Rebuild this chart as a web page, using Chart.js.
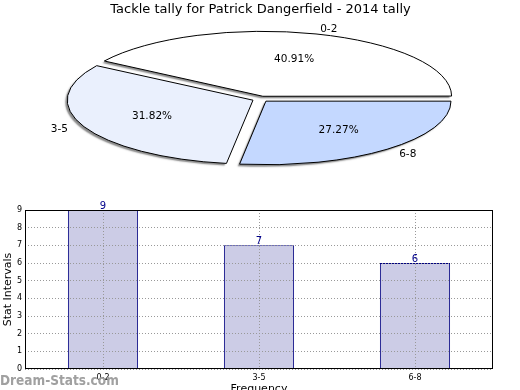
<!DOCTYPE html>
<html>
<head>
<meta charset="utf-8">
<script src="https://cdn.jsdelivr.net/npm/chart.js@4/dist/chart.umd.min.js"></script>
<style>
  html, body { margin: 0; padding: 0; background: #ffffff; overflow: hidden; width: 520px; height: 390px; }
  #pie { position: absolute; left: 0; top: 0; }
  #bar { position: absolute; left: 0; top: 200px; }
</style>
</head>
<body>
<canvas id="pie" width="520" height="200"></canvas>
<canvas id="bar" width="520" height="200"></canvas>
<script>
// ---- data ----
const categories = ['0-2', '3-5', '6-8'];
const tallies = [9, 7, 6];
const yTicks = [0, 1, 2, 3, 4, 5, 6, 7, 8, 9];
const chartTitle = 'Tackle tally for Patrick Dangerfield - 2014 tally';
const yAxisTitle = 'Stat Intervals';
const xAxisTitle = 'Frequency';
const watermark = 'Dream-Stats.com';

// ---- styles ----
const pieColors = ['#ffffff', '#eaf0fd', '#c4d8ff'];
const FONT = '"DejaVu Sans", Verdana, sans-serif';
const SQUASH = 0.344;

// Pie: squash vertically + flip so that Chart.js' clockwise order appears counter-clockwise
const squashPlugin = {
  id: 'squash',
  beforeDatasetsDraw(chart) {
    const ctx = chart.ctx;
    const el = chart.getDatasetMeta(0).data[0];
    const cx = el.x, cy = el.y;
    const base = ctx.getTransform();
    ctx.save();
    ctx.translate(cx, cy);
    ctx.scale(1, -SQUASH);
    ctx.translate(-cx, -cy);
    ctx.shadowColor = 'rgba(40,40,40,0.55)';
    ctx.shadowOffsetX = -2;
    ctx.shadowOffsetY = 2;
    ctx.shadowBlur = 1.5;
    const origStroke = CanvasRenderingContext2D.prototype.stroke;
    ctx.stroke = function () {
      this.save();
      this.setTransform(base);
      this.shadowColor = 'rgba(0,0,0,0)';
      origStroke.apply(this, arguments);
      this.restore();
    };
  },
  afterDatasetsDraw(chart) {
    const ctx = chart.ctx;
    delete ctx.stroke;
    ctx.restore();
    // labels
    const meta = chart.getDatasetMeta(0);
    const total = tallies.reduce((a, b) => a + b, 0);
    ctx.save();
    ctx.fillStyle = '#000000';
    ctx.font = '10.5px ' + FONT;
    ctx.textBaseline = 'middle';
    meta.data.forEach((el, i) => {
      const m = (el.startAngle + el.endAngle) / 2;
      const t = (el.options.offset || 0) / 4;
      const R = el.outerRadius;
      const ex = el.x + t * Math.cos(m);
      const ey = el.y - SQUASH * t * Math.sin(m);
      const lx = ex + 1.1 * R * Math.cos(m);
      const ly = ey - SQUASH * 1.1 * R * Math.sin(m);
      ctx.textAlign = Math.cos(m) >= 0 ? 'left' : 'right';
      ctx.fillText(categories[i], lx, ly);
      const px = ex + 0.6 * R * Math.cos(m);
      const py = ey - SQUASH * 0.6 * R * Math.sin(m);
      ctx.textAlign = 'center';
      ctx.fillText((tallies[i] / total * 100).toFixed(2) + '%', px, py);
    });
    ctx.restore();
  }
};

new Chart(document.getElementById('pie'), {
  type: 'pie',
  data: {
    labels: categories,
    datasets: [{
      data: tallies,
      backgroundColor: pieColors,
      borderColor: '#000000',
      borderWidth: 1,
      offset: 33,
      clip: 1000
    }]
  },
  options: {
    responsive: false,
    animation: false,
    events: [],
    rotation: 90,
    radius: 185,
    layout: { padding: { left: 1, right: 0, top: 0, bottom: 19.6 } },
    plugins: {
      legend: { display: false },
      tooltip: { enabled: false },
      title: {
        display: true,
        text: chartTitle,
        color: '#000000',
        font: { family: FONT, size: 13, weight: 'normal' },
        padding: { top: 2, bottom: 0 }
      }
    }
  },
  plugins: [squashPlugin]
});

// Bar chart
const barExtras = {
  id: 'barExtras',
  afterDraw(chart) {
    const ctx = chart.ctx;
    const a = chart.chartArea;
    ctx.save();
    ctx.setLineDash([]);
    ctx.strokeStyle = '#000000';
    ctx.lineWidth = 1;
    ctx.strokeRect(Math.round(a.left) + 0.5, Math.round(a.top) + 0.5, Math.round(a.right - a.left) - 1, Math.round(a.bottom - a.top) - 1);
    // value labels
    const meta = chart.getDatasetMeta(0);
    ctx.fillStyle = '#00008b';
    ctx.font = '10px ' + FONT;
    ctx.textAlign = 'center';
    ctx.textBaseline = 'bottom';
    meta.data.forEach((el, i) => {
      ctx.fillText(String(tallies[i]), el.x, el.y + 1);
    });
    // watermark
    ctx.fillStyle = '#a0a0a0';
    ctx.font = 'bold 13.5px "DejaVu Sans Condensed", ' + FONT;
    ctx.textAlign = 'left';
    ctx.textBaseline = 'alphabetic';
    ctx.fillText(watermark, 0, 184.5);
    ctx.restore();
  }
};

new Chart(document.getElementById('bar'), {
  type: 'bar',
  data: {
    labels: categories,
    datasets: [{
      data: tallies,
      backgroundColor: '#ccccE6',
      borderColor: '#000080',
      borderWidth: 1,
      barPercentage: 0.45,
      categoryPercentage: 1
    }]
  },
  options: {
    responsive: false,
    animation: false,
    events: [],
    layout: { padding: { top: 10, right: 27, left: 0, bottom: 0 } },
    plugins: { legend: { display: false }, tooltip: { enabled: false } },
    scales: {
      x: {
        offset: true,
        afterFit(s) { s.height = 31; },
        grid: { offset: false, color: '#999999', lineWidth: 1, drawTicks: false, z: 1 },
        border: { display: false, dash: [1, 2] },
        ticks: { color: '#000000', font: { family: FONT, size: 8 }, padding: 4, maxRotation: 0 },
        title: { display: true, text: xAxisTitle, color: '#000000', font: { family: FONT, size: 11 }, padding: { top: 0, bottom: 4.4 } }
      },
      y: {
        min: 0,
        max: 9,
        afterFit(s) { s.width = 25; },
        afterBuildTicks(s) { s.ticks = yTicks.map(v => ({ value: v })); },
        grid: { color: '#999999', lineWidth: 1, drawTicks: false, z: 1 },
        border: { display: false, dash: [1, 2] },
        ticks: { color: '#000000', font: { family: FONT, size: 8 }, padding: 3 },
        title: { display: true, text: yAxisTitle, color: '#000000', font: { family: FONT, size: 11 }, padding: { top: 2, bottom: 0 } }
      }
    }
  },
  plugins: [barExtras]
});
</script>
</body>
</html>
